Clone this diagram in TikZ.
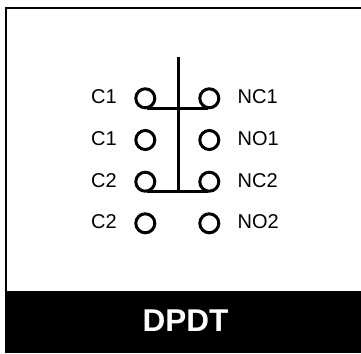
\documentclass[tikz,border=0pt]{standalone}
\usepackage{fontspec}
\setmainfont{Liberation Sans}
\tikzset{
  x=1pt,y=-1pt,
  term/.style={circle,draw=black,line width=3pt,fill=none,minimum size=19pt,inner sep=0pt},
  lbl/.style={font=\fontsize{20}{22}\selectfont,text=black,inner sep=0pt},
  wire/.style={draw=black,line width=2.6pt}
}
\begin{document}
\begin{tikzpicture}
\useasboundingbox (0,0) rectangle (361,353);
\fill[white] (0,0) rectangle (361,353);
\draw[black,line width=2.5pt] (361,8) -- (6.2,8) -- (6.2,353);
\fill[black] (5,291) rectangle (361,353);
\node[font=\bfseries\fontsize{31.5}{34}\selectfont,text=white,inner sep=0pt] (title) at (185.5,321) {DPDT};
\node[term] (a1) at (145.3,98.3) {};
\node[term] (a2) at (145.3,140) {};
\node[term] (a3) at (145.3,181.7) {};
\node[term] (a4) at (145.3,223.3) {};
\node[term] (b1) at (209.3,98.3) {};
\node[term] (b2) at (209.3,140) {};
\node[term] (b3) at (209.3,181.7) {};
\node[term] (b4) at (209.3,223.3) {};
\node[lbl,anchor=west] (la1) at (91,97) {C1};
\node[lbl,anchor=west] (la2) at (91,139) {C1};
\node[lbl,anchor=west] (la3) at (91,181) {C2};
\node[lbl,anchor=west] (la4) at (91,222) {C2};
\node[lbl,anchor=west] (lb1) at (237.5,97) {NC1};
\node[lbl,anchor=west] (lb2) at (237.5,139) {NO1};
\node[lbl,anchor=west] (lb3) at (237.5,181) {NC2};
\node[lbl,anchor=west] (lb4) at (237.5,222) {NO2};
\coordinate (top) at (178.7,57);
\coordinate (j1) at (178.7,108.3);
\coordinate (j2) at (178.7,191.7);
\coordinate (s1) at (147,108.3);
\coordinate (e1) at (208,108.3);
\coordinate (s2) at (147,191.7);
\coordinate (e2) at (208,191.7);
\draw[wire] (top) -- (j1) -- (j2);
\draw[wire] (s1) -- (e1);
\draw[wire] (s2) -- (e2);
\end{tikzpicture}
\end{document}
